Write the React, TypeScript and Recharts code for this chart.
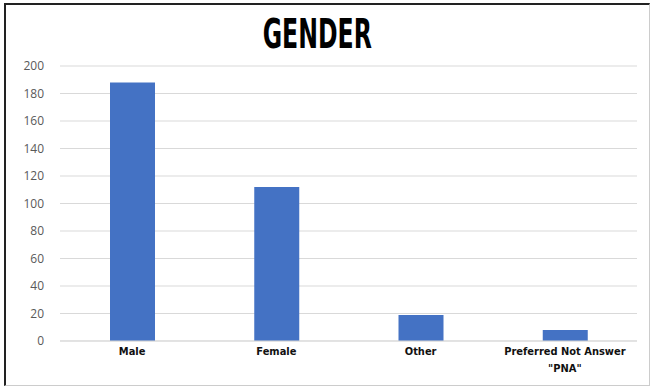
import { Bar, BarChart, CartesianGrid, XAxis, YAxis } from "recharts"

const categories = ["Male", "Female", "Other", "Preferred Not Answer|\"PNA\""]
const counts = [188, 112, 19, 8]
const yTicks = [0, 20, 40, 60, 80, 100, 120, 140, 160, 180, 200]

const data = categories.map((name, i) => ({ name, count: counts[i] }))

function CategoryTick(props: any) {
  const { x, y, payload } = props
  const lines = String(payload.value).split("|")
  return (
    <text
      x={x}
      y={y}
      textAnchor="middle"
      fill="#111"
      fontFamily="'Liberation Sans Narrow', 'DejaVu Sans Condensed', sans-serif"
      fontWeight="bold"
      fontSize={11}
    >
      {lines.map((line, i) => (
        <tspan key={i} x={x} dy={i === 0 ? 12 : 17}>
          {line}
        </tspan>
      ))}
    </text>
  )
}

export default function App() {
  return (
    <div style={{ position: "absolute", left: 0, top: 0, width: 651, height: 387, background: "#fff" }}>
      <div
        style={{
          position: "absolute",
          left: 4,
          top: 3,
          width: 643,
          height: 380,
          borderLeft: "2px solid #222",
          borderTop: "2px solid #222",
          borderRight: "1px solid #ccc",
          borderBottom: "1px solid #ccc",
        }}
      />
      <div
        style={{
          position: "absolute",
          left: 0,
          top: 11,
          width: 635,
          textAlign: "center",
          fontFamily: "'Liberation Sans Narrow', 'DejaVu Sans Condensed', sans-serif",
          fontWeight: "bold",
          fontSize: 41,
          lineHeight: "46px",
          color: "#000",
        }}
      >
        <span style={{ display: "inline-block", transform: "scaleX(0.64)" }}>GENDER</span>
      </div>
      <div style={{ position: "absolute", left: 0, top: 0 }}>
        <BarChart
          width={651}
          height={387}
          data={data}
          margin={{ top: 66, right: 14, bottom: 12, left: 0 }}
          barSize={45}
        >
          <CartesianGrid vertical={false} stroke="#d9d9d9" />
          <XAxis
            dataKey="name"
            axisLine={{ stroke: "#d9d9d9" }}
            tickLine={false}
            tickSize={0}
            tickMargin={2}
            height={34}
            interval={0}
            tick={<CategoryTick />}
          />
          <YAxis
            domain={[0, 200]}
            ticks={yTicks}
            axisLine={false}
            tickLine={false}
            tickSize={0}
            tickMargin={16}
            width={60}
            tick={{ fill: "#595959", fontSize: 12, fontFamily: "'Open Sans', sans-serif" }}
          />
          <Bar dataKey="count" fill="#4472C4" isAnimationActive={false} />
        </BarChart>
      </div>
    </div>
  )
}
